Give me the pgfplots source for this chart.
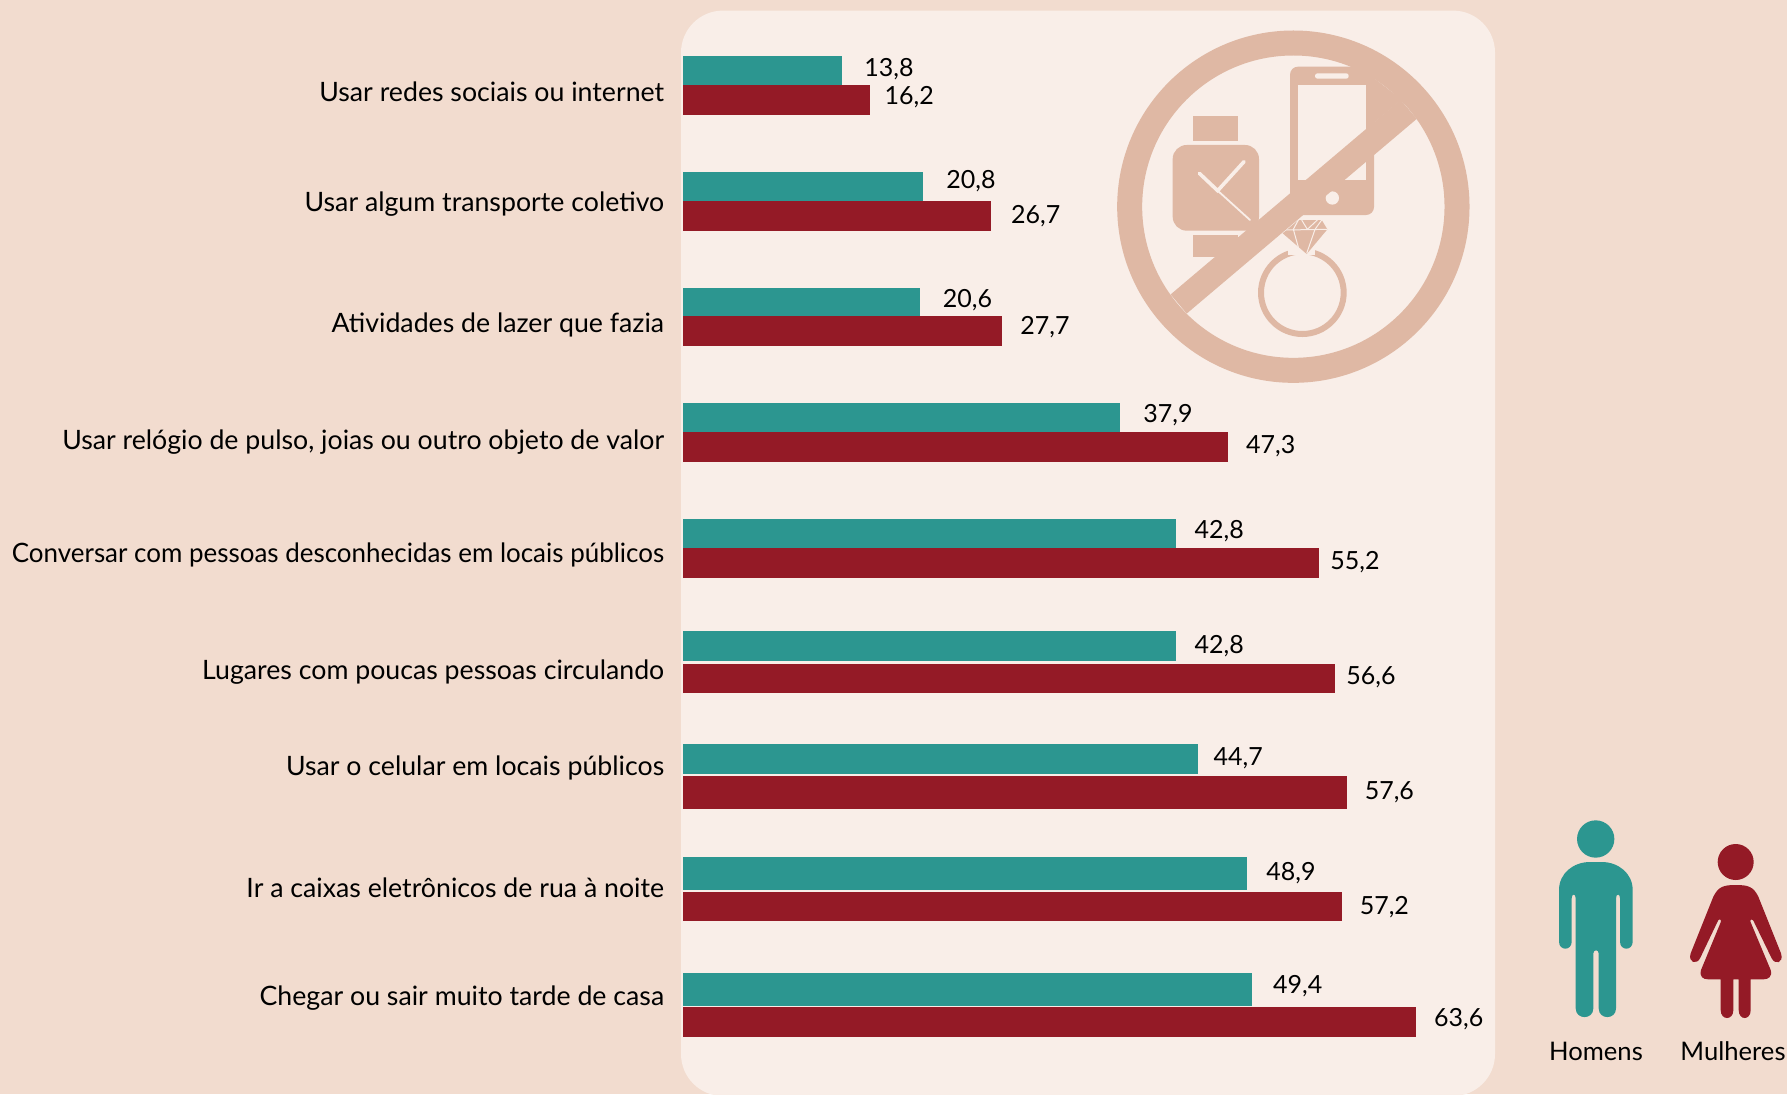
\documentclass[border=0pt]{standalone}
\usepackage{pgfplots}
\pgfplotsset{compat=1.18}
\usepackage{fontspec}
\setmainfont{Lato}
\definecolor{bgc}{HTML}{F2DCCF}
\definecolor{panelc}{HTML}{F9EEE8}
\definecolor{iconc}{HTML}{DFB8A4}
\definecolor{homem}{HTML}{2C9690}
\definecolor{mulher}{HTML}{941A26}
\pgfplotsset{
  barra/.style n args={4}{xbar, bar shift=0pt, draw=none, fill=#1, bar width=#2pt,
    point meta=x, nodes near coords,
    every node near coord/.append style={anchor=west, inner sep=0pt, text height=9pt, text depth=0pt,
      font=\fontsize{12.5}{14}\selectfont, text=black, xshift=#3pt, yshift=#4pt,
      /pgf/number format/.cd, use comma, fixed, fixed zerofill, precision=1, assume math mode=true}}
}
\begin{document}
\begin{tikzpicture}
\useasboundingbox (0,0) rectangle (893.5pt,547pt);
\fill[bgc] (0,0) rectangle (893.5pt,547pt);
\begin{scope}
\clip (0,0) rectangle (893.5pt,547pt);
\fill[panelc, rounded corners=21pt] (340.5pt,-1pt) rectangle (747.5pt,541.7pt);
\end{scope}
% forbidden-sign icon, coordinates in 1/3 px
\begin{scope}[shift={(540pt,547pt)},x=0.166667pt,y=-0.166667pt]
 % phone
 \fill[iconc,rounded corners=4pt] (630,200) rectangle (882,645);
 \fill[panelc] (654,255) rectangle (858,540);
 \fill[panelc,rounded corners=1.2pt] (705,220) rectangle (806,236);
 \fill[panelc] (757,594) circle [radius=20];
 \fill[iconc] (882,235) -- (965,298) -- (882,368) -- cycle;
 % watch
 \fill[iconc] (340,348) rectangle (474,422);
 \fill[iconc] (340,705) rectangle (474,772);
 \fill[iconc,rounded corners=7pt] (278,435) rectangle (537,692);
 \draw[panelc,line width=1.8pt,line cap=round] (358,520) -- (413,572) -- (492,485);
 \draw[panelc,line width=.9pt,line cap=round] (413,572) -- (510,660);
 % ring
 \draw[iconc,line width=3pt] (667,878) circle [radius=124];
 \fill[panelc] (625,745) rectangle (705,765);
 \fill[iconc] (655,660) -- (725,660) -- (742,688) -- (680,762) -- (608,700) -- cycle;
 \draw[panelc,line width=.5pt] (612,690) -- (742,688) (655,660) -- (640,688) -- (660,760) (725,660) -- (705,688) -- (680,760) (665,660) -- (682,688) -- (712,660);
 % slash and circle
 \draw[iconc,line width=12.5pt] (986,328) -- (296,912);
 \draw[iconc,line width=12.5pt] (640,620) circle [radius=491];
\end{scope}
% figures, coordinates in 1/3 px
\begin{scope}[shift={(750pt,152pt)},x=0.166667pt,y=-0.166667pt]
 \fill[homem] (287,147) circle [radius=56];
 \fill[homem] (177,300) .. controls (177,250) and (220,216) .. (270,216) -- (305,216)
   .. controls (355,216) and (398,250) .. (398,300) -- (398,455)
   .. controls (398,483) and (360,483) .. (360,455) -- (360,325)
   .. controls (360,310) and (348,310) .. (348,325) -- (348,655)
   .. controls (348,690) and (296,690) .. (296,655) -- (296,490)
   .. controls (296,478) and (280,478) .. (280,490) -- (280,655)
   .. controls (280,690) and (227,690) .. (227,655) -- (227,325)
   .. controls (227,310) and (215,310) .. (215,325) -- (215,455)
   .. controls (215,483) and (177,483) .. (177,455) -- cycle;
 \fill[mulher] (707,216) circle [radius=54];
 \fill[mulher] (707,285) .. controls (745,285) and (760,290) .. (775,320) -- (843,490)
   .. controls (852,520) and (825,525) .. (815,505) -- (760,392)
   .. controls (755,385) and (748,390) .. (752,397) -- (812,540)
   .. controls (818,560) and (805,568) .. (790,568) -- (752,568) -- (752,660)
   .. controls (752,692) and (716,692) .. (716,660) -- (716,568) -- (700,568) -- (700,660)
   .. controls (700,692) and (662,692) .. (662,660) -- (662,568) -- (625,568)
   .. controls (608,568) and (598,560) .. (603,540) -- (662,397)
   .. controls (665,388) and (658,385) .. (654,392) -- (600,505)
   .. controls (590,525) and (563,518) .. (572,490) -- (640,320)
   .. controls (655,290) and (670,285) .. (707,285) -- cycle;
\end{scope}
\node[anchor=base,inner sep=0pt,font=\fontsize{12.8}{14}\selectfont] at (798pt,17pt) {Homens};
\node[anchor=base,inner sep=0pt,font=\fontsize{12.8}{14}\selectfont] at (866.5pt,17pt) {Mulheres};
\begin{axis}[
  at={(341.5pt,-0.4pt)}, anchor=south west,
  scale only axis, width=552pt, height=547pt,
  xmin=0, xmax=95.79, ymin=0, ymax=1094, y dir=reverse,
  clip=false,
  axis line style={draw=none}, tick style={draw=none},
  major tick length=0pt,
  xtick=\empty,
  ytick={101,211,332,449,562,679,775,897,1005},
  yticklabels={Usar redes sociais ou internet,
    Usar algum transporte coletivo,
    Atividades de lazer que fazia,
    {Usar relógio de pulso, joias ou outro objeto de valor},
    \scalebox{0.972}[1]{Conversar com pessoas desconhecidas em locais públicos},
    Lugares com poucas pessoas circulando,
    Usar o celular em locais públicos,
    Ir a caixas eletrônicos de rua à noite,
    Chegar ou sair muito tarde de casa},
  y tick label style={anchor=base east, inner sep=0pt, xshift=-9.2pt,
    font=\fontsize{13.35}{15}\selectfont, text=black},
]
\addplot[barra={homem}{14.35}{11}{1.5}]    coordinates {(13.8,69.65)};
\addplot[barra={mulher}{15}{7.3}{2.35}]    coordinates {(16.2,99)};
\addplot[barra={homem}{14.35}{11.65}{3.3}] coordinates {(20.8,185.65)};
\addplot[barra={mulher}{14.85}{10}{0.8}]   coordinates {(26.7,214.85)};
\addplot[barra={homem}{14.3}{11}{1.75}]    coordinates {(20.6,301)};
\addplot[barra={mulher}{15}{8.9}{2.75}]    coordinates {(27.7,330.3)};
\addplot[barra={homem}{14.5}{11.6}{2.1}]   coordinates {(37.9,416.8)};
\addplot[barra={mulher}{14.85}{8.8}{1.4}]  coordinates {(47.3,446.15)};
\addplot[barra={homem}{14.35}{9}{1.9}]     coordinates {(42.8,532.65)};
\addplot[barra={mulher}{14.85}{5.4}{1.1}]  coordinates {(55.2,561.85)};
\addplot[barra={homem}{15}{9}{0.65}]       coordinates {(42.8,645.3)};
\addplot[barra={mulher}{14.8}{5.35}{1.4}]  coordinates {(56.6,677.5)};
\addplot[barra={homem}{14.9}{7.55}{1.35}]  coordinates {(44.7,758.4)};
\addplot[barra={mulher}{16.7}{8.75}{0.8}]  coordinates {(57.6,791.6)};
\addplot[barra={homem}{16.9}{9.7}{0.8}]    coordinates {(48.9,872.6)};
\addplot[barra={mulher}{14.65}{8.55}{0.2}] coordinates {(57.2,905.35)};
\addplot[barra={homem}{16.8}{10.2}{2.6}]   coordinates {(49.4,988.5)};
\addplot[barra={mulher}{14.85}{8.85}{2.2}] coordinates {(63.6,1021.15)};
\end{axis}
\end{tikzpicture}
\end{document}
